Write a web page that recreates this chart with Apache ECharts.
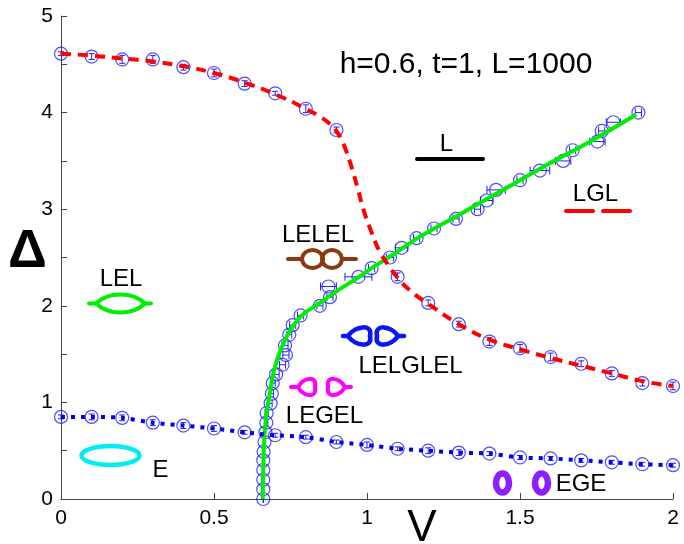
<!DOCTYPE html>
<html>
<head>
<meta charset="utf-8">
<script src="https://cdn.jsdelivr.net/npm/echarts@6/dist/echarts.min.js"></script>
<style>html,body{margin:0;padding:0;background:#fff}#c{width:684px;height:544px}</style>
</head>
<body>
<div id="c"></div>
<script>
// ---- data ----
const xTicks = [0, 0.5, 1, 1.5, 2];
const yTicks = [0, 1, 2, 3, 4, 5];

// LGL branch (red dashed) – measured points
const redV = [0,0.1,0.2,0.3,0.4,0.5,0.6,0.7,0.8,0.9,1.1,1.2,1.3,1.4,1.5,1.6,1.7,1.8,1.9,2.0];
const redD = [4.61,4.58,4.55,4.55,4.47,4.41,4.30,4.20,4.04,3.82,2.30,2.03,1.81,1.63,1.56,1.47,1.40,1.30,1.20,1.17];
const redErr = [0.02,0.03,0.04,0.04,0.03,0.04,0.03,0.02,0.04,0.03,0.04,0.03,0.03,0.04,0.04,0.04,0.03,0.03,0.03,0.04];
// LGL fit curve
const redFitV = [0,0.1,0.2,0.3,0.4,0.5,0.6,0.7,0.8,0.85,0.88,0.9,0.915,0.93,0.95,0.97,0.99,1.015,1.04,1.07,1.1,1.14,1.2,1.3,1.4,1.5,1.6,1.7,1.8,1.9,2.0];
const redFitD = [4.61,4.59,4.56,4.53,4.48,4.41,4.31,4.19,4.04,3.95,3.88,3.81,3.73,3.62,3.43,3.21,2.98,2.76,2.57,2.42,2.29,2.16,2.02,1.81,1.65,1.55,1.46,1.38,1.30,1.22,1.17];

// E branch (blue dotted)
const eV = [0,0.1,0.2,0.3,0.4,0.5,0.6,0.7,0.8,0.9,1.0,1.1,1.2,1.3,1.4,1.5,1.6,1.7,1.8,1.9,2.0];
const eD = [0.85,0.85,0.84,0.79,0.76,0.73,0.69,0.66,0.64,0.59,0.56,0.52,0.50,0.48,0.47,0.43,0.42,0.40,0.38,0.36,0.35];
const eErr = [0.02,0.03,0.03,0.03,0.03,0.03,0.02,0.02,0.02,0.02,0.03,0.02,0.03,0.03,0.02,0.02,0.02,0.02,0.02,0.02,0.02];

// L branch (green) – measured points
const gV = [0.661,0.661,0.661,0.661,0.661,0.662,0.665,0.668,0.671,0.672,0.685,0.689,0.692,0.703,0.724,0.735,0.732,0.746,0.757,0.783,0.846,0.879,0.874,0.972,1.015,1.075,1.113,1.162,1.219,1.291,1.361,1.391,1.422,1.50,1.565,1.641,1.672,1.753,1.767,1.805,1.887];
const gD = [0,0.10,0.20,0.30,0.40,0.49,0.59,0.69,0.79,0.89,0.99,1.09,1.20,1.29,1.39,1.49,1.59,1.70,1.80,1.90,2.00,2.09,2.20,2.30,2.39,2.50,2.60,2.70,2.80,2.90,3.00,3.09,3.20,3.30,3.40,3.50,3.61,3.70,3.81,3.90,4.00];
const gErr = [0,0,0,0,0,0,0,0,0.005,0.005,0.005,0.005,0.008,0.01,0.01,0.01,0.01,0.008,0.01,0.01,0.01,0.01,0.026,0.044,0.01,0.012,0.02,0.01,0.01,0.01,0.01,0.02,0.03,0.01,0.032,0.025,0.01,0.025,0.01,0.023,0.01];
// L fit curve
const gFitV = [0.659,0.661,0.664,0.672,0.683,0.694,0.71,0.727,0.75,0.787,0.846,0.9,0.97,1.02,1.075,1.16,1.22,1.3,1.4,1.5,1.6,1.7,1.8,1.88];
const gFitD = [0,0.3,0.6,0.9,1.1,1.3,1.48,1.61,1.75,1.9,2.03,2.15,2.29,2.40,2.51,2.69,2.80,2.94,3.12,3.30,3.48,3.65,3.83,3.98];

const zip = (a, b, c) => a.map((v, i) => c ? [v, b[i], c[i]] : [v, b[i]]);

const FONT = '"Liberation Sans", Arial, Helvetica, sans-serif';
const MARK = '#2020ff';

function vErr(params, api) {
  const x = api.value(0), y = api.value(1), e = api.value(2);
  const lo = api.coord([x, y - e]), hi = api.coord([x, y + e]);
  const c = 3, st = {stroke: MARK, lineWidth: 1};
  return {type: 'group', children: [
    {type: 'line', shape: {x1: lo[0], y1: lo[1], x2: hi[0], y2: hi[1]}, style: st},
    {type: 'line', shape: {x1: lo[0]-c, y1: lo[1], x2: lo[0]+c, y2: lo[1]}, style: st},
    {type: 'line', shape: {x1: hi[0]-c, y1: hi[1], x2: hi[0]+c, y2: hi[1]}, style: st}
  ]};
}
function hErr(params, api) {
  const x = api.value(0), y = api.value(1), e = api.value(2);
  const lo = api.coord([x - e, y]), hi = api.coord([x + e, y]);
  const c = 4, st = {stroke: MARK, lineWidth: 1};
  return {type: 'group', children: [
    {type: 'line', shape: {x1: lo[0], y1: lo[1], x2: hi[0], y2: hi[1]}, style: st},
    {type: 'line', shape: {x1: lo[0], y1: lo[1]-c, x2: lo[0], y2: lo[1]+c}, style: st},
    {type: 'line', shape: {x1: hi[0], y1: hi[1]-c, x2: hi[0], y2: hi[1]+c}, style: st}
  ]};
}

// ---- icon helpers (decorative annotations) ----
function seg(x1, y1, x2, y2, color, w) {
  return {type: 'line', shape: {x1, y1, x2, y2}, style: {stroke: color, lineWidth: w, lineCap: 'round'}, z: 50};
}
function bez(x1, y1, cx1, cy1, cx2, cy2, x2, y2, color, w) {
  return {type: 'bezierCurve', shape: {x1, y1, cpx1: cx1, cpy1: cy1, cpx2: cx2, cpy2: cy2, x2, y2},
    style: {stroke: color, lineWidth: w, fill: null, lineCap: 'round'}, z: 50};
}
function lens(a, b, y, hh, color, w, k) {
  const wd = b - a;
  return [
    bez(a, y, a + k*wd, y - 1.33*hh, b - k*wd, y - 1.33*hh, b, y, color, w),
    bez(a, y, a + k*wd, y + 1.33*hh, b - k*wd, y + 1.33*hh, b, y, color, w)
  ];
}
function drop(tip, rnd, y, hh, color, w) {
  const d = rnd - tip;
  return [
    bez(tip, y, tip + 0.3*d, y - 1.2*hh, rnd + 0.15*d, y - 1.5*hh, rnd, y, color, w),
    bez(tip, y, tip + 0.3*d, y + 1.2*hh, rnd + 0.15*d, y + 1.5*hh, rnd, y, color, w)
  ];
}
function txt(s, x, y, size, weight) {
  return {type: 'text', z: 60, style: {text: s, x, y, fill: '#000', font: (weight || 'normal') + ' ' + size + 'px ' + FONT,
    align: 'center', verticalAlign: 'middle', textAlign: 'center', textVerticalAlign: 'middle'}};
}

const GREEN = '#00ee00', BROWN = '#8b3a10', MAG = '#ff00ff', BLUE = '#0a18f0', CYAN = '#00eef2', PURPLE = '#8c1eff';

const graphics = [].concat(
  [txt('h=0.6, t=1, L=1000', 466, 65, 30)],
  [txt('L', 446.5, 144, 24), seg(417, 159, 483, 159, '#000', 4)],
  [txt('LGL', 595.5, 194, 24), seg(566, 211, 593, 211, '#ff0000', 4), seg(603, 211, 630, 211, '#ff0000', 4)],
  [txt('LELEL', 318, 235, 24), seg(288, 259, 302, 259, BROWN, 4), seg(342, 259, 356, 259, BROWN, 4)],
  lens(302, 323, 259, 9, BROWN, 4, 0.05), lens(322, 342, 259, 9, BROWN, 4, 0.05),
  [txt('LEL', 121, 279, 24), seg(89, 303.5, 96, 303.5, GREEN, 4), seg(145, 303.5, 151, 303.5, GREEN, 4)],
  lens(96, 145, 303.5, 9, GREEN, 4, 0.25),
  [txt('LELGLEL', 410.5, 366, 24), seg(343, 336, 348, 336, BLUE, 4.5), seg(398, 336, 404, 336, BLUE, 4.5)],
  drop(348, 370, 336, 8.5, BLUE, 4.5), drop(398, 377, 336, 8.5, BLUE, 4.5),
  [txt('LEGEL', 324.5, 416, 24), seg(291, 387, 298, 387, MAG, 4), seg(345, 387, 351, 387, MAG, 4)],
  drop(298, 315, 387, 8, MAG, 4), drop(345, 328, 387, 8, MAG, 4),
  [txt('E', 160.5, 470, 24),
   {type: 'ellipse', z: 50, shape: {cx: 110.5, cy: 455.5, rx: 29, ry: 9.5}, style: {stroke: CYAN, lineWidth: 4.5, fill: null}}],
  [txt('EGE', 581, 484, 24),
   {type: 'ellipse', z: 50, shape: {cx: 502.5, cy: 483, rx: 6.5, ry: 9.5}, style: {stroke: PURPLE, lineWidth: 6.5, fill: null}},
   {type: 'ellipse', z: 50, shape: {cx: 541.5, cy: 483, rx: 6.5, ry: 9.5}, style: {stroke: PURPLE, lineWidth: 6.5, fill: null}}],
  [txt('\u0394', 27.5, 252, 54, 'bold'), txt('V', 422, 529, 44)]
);

const chart = echarts.init(document.getElementById('c'), null, {renderer: 'canvas'});
chart.setOption({
  backgroundColor: '#fff',
  animation: false,
  grid: {left: 61, right: 11, top: 16, bottom: 45, containLabel: false},
  xAxis: {
    type: 'value', min: xTicks[0], max: xTicks[xTicks.length - 1], interval: 0.5,
    axisLine: {show: true, lineStyle: {color: '#444', width: 1}},
    axisTick: {show: true, inside: true, length: 6, lineStyle: {color: '#444'}},
    axisLabel: {color: '#000', fontSize: 21, fontFamily: FONT, margin: 9,
      formatter: v => (xTicks.indexOf(v) >= 0 ? String(v) : '')},
    splitLine: {show: false}
  },
  yAxis: {
    type: 'value', min: 0, max: 5, interval: 0.5,
    axisLine: {show: true, lineStyle: {color: '#444', width: 1}},
    axisTick: {show: true, inside: true, length: 6, lineStyle: {color: '#444'}},
    axisLabel: {color: '#000', fontSize: 21, fontFamily: FONT, margin: 8,
      formatter: v => (yTicks.indexOf(v) >= 0 ? String(v) : '')},
    splitLine: {show: false}
  },
  series: [
    {type: 'scatter', z: 2, data: zip(redV, redD), symbol: 'circle', symbolSize: 13,
      itemStyle: {color: 'rgba(0,0,0,0)', borderColor: MARK, borderWidth: 1.2}},
    {type: 'scatter', z: 2, data: zip(eV, eD), symbol: 'circle', symbolSize: 13,
      itemStyle: {color: 'rgba(0,0,0,0)', borderColor: MARK, borderWidth: 1.2}},
    {type: 'scatter', z: 2, data: zip(gV, gD), symbol: 'circle', symbolSize: 13,
      itemStyle: {color: 'rgba(0,0,0,0)', borderColor: MARK, borderWidth: 1.2}},
    {type: 'custom', z: 2, renderItem: vErr, data: zip(redV, redD, redErr), encode: {x: 0, y: 1}},
    {type: 'custom', z: 2, renderItem: vErr, data: zip(eV, eD, eErr), encode: {x: 0, y: 1}},
    {type: 'custom', z: 2, renderItem: hErr, data: zip(gV, gD, gErr), encode: {x: 0, y: 1}},
    {type: 'line', z: 3, data: zip(gFitV, gFitD), showSymbol: false, smooth: 0.4, symbol: 'none',
      lineStyle: {color: GREEN, width: 4}},
    {type: 'line', z: 4, data: zip(redFitV, redFitD), showSymbol: false, smooth: 0.5, symbol: 'none',
      lineStyle: {color: '#ff0000', width: 4, type: [10, 7]}},
    {type: 'line', z: 4, data: zip(eV, eD), showSymbol: false, smooth: 0.3, symbol: 'none',
      lineStyle: {color: '#0000ee', width: 4, type: [4, 6]}}
  ],
  graphic: {elements: graphics}
});
</script>
</body>
</html>
